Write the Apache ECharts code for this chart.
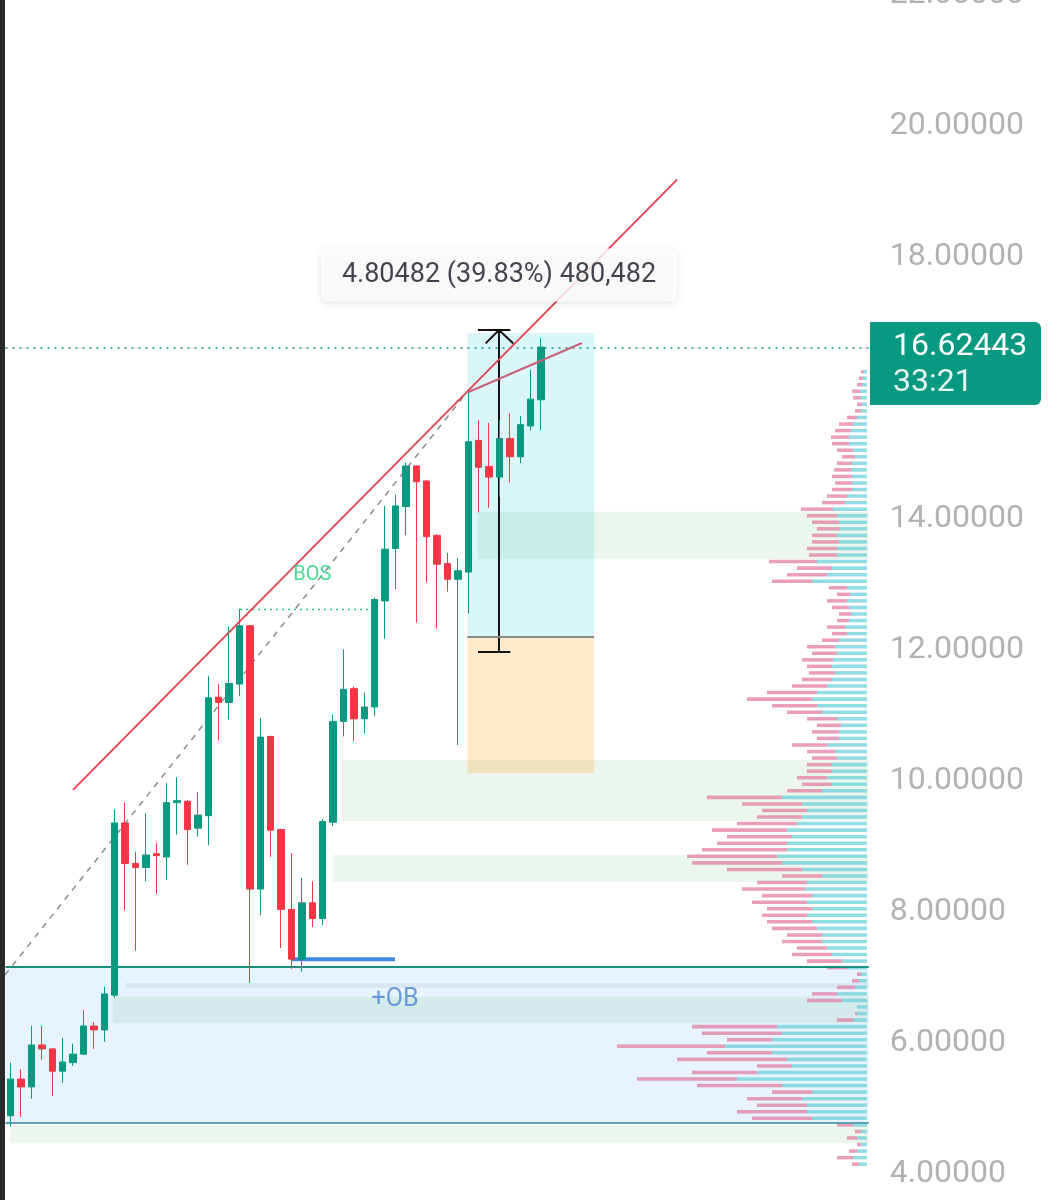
<!DOCTYPE html>
<html>
<head>
<meta charset="utf-8">
<script src="https://cdn.jsdelivr.net/npm/echarts@6/dist/echarts.min.js"></script>
<style>
  html, body { margin: 0; padding: 0; background: #fff; }
  #chart { width: 1055px; height: 1200px; }
</style>
</head>
<body>
<div id="chart"></div>
<script>
// candles (index = bar number)
const opens  = [4.89, 5.45, 5.33, 5.97, 5.91, 5.57, 5.70, 5.83, 6.26, 6.20, 6.73, 9.36, 8.74, 8.68, 8.89, 8.84, 9.67, 9.69, 9.28, 9.47, 11.28, 11.20, 11.48, 12.37, 8.35, 10.68, 9.26, 8.04, 7.28, 8.14, 7.90, 9.37, 10.91, 11.41, 10.95, 11.13, 12.75, 13.55, 14.19, 14.81, 14.58, 13.75, 13.32, 13.08, 13.19, 15.20, 14.80, 14.64, 15.23, 14.95, 15.42, 15.82];
const closes = [5.45, 5.33, 5.97, 5.91, 5.57, 5.71, 5.83, 6.26, 6.20, 6.75, 9.36, 8.74, 8.68, 8.87, 8.86, 9.67, 9.70, 9.26, 9.48, 11.27, 11.20, 11.49, 12.37, 8.35, 10.67, 9.25, 8.04, 7.28, 8.14, 7.90, 9.38, 10.91, 11.40, 10.95, 11.13, 12.77, 13.54, 14.20, 14.81, 14.57, 13.73, 13.31, 13.08, 13.21, 15.18, 14.79, 14.64, 15.23, 14.95, 15.44, 15.83, 16.62443];
const lows   = [4.73, 4.87, 5.15, 5.74, 5.19, 5.39, 5.65, 5.82, 5.91, 6.02, 6.69, 8.02, 7.41, 8.47, 8.28, 8.49, 9.18, 8.72, 9.15, 9.02, 10.62, 10.94, 11.30, 6.92, 7.95, 8.84, 7.45, 7.13, 7.09, 7.77, 7.80, 9.31, 10.68, 10.61, 10.73, 10.99, 12.17, 12.93, 13.75, 12.42, 13.03, 12.33, 12.89, 10.55, 12.56, 14.10, 14.17, 14.34, 14.56, 14.85, 15.35, 15.36];
const highs  = [5.70, 5.60, 6.26, 6.26, 5.92, 6.08, 5.99, 6.50, 6.32, 6.86, 9.57, 9.67, 8.92, 9.51, 9.05, 9.97, 10.06, 9.71, 9.83, 11.60, 11.48, 12.36, 12.63, 12.38, 10.96, 10.69, 9.27, 8.90, 8.52, 8.47, 9.42, 11.01, 12.01, 11.44, 11.35, 12.80, 14.20, 14.37, 14.86, 14.82, 14.60, 13.77, 13.48, 13.40, 15.94, 15.51, 15.47, 15.51, 15.61, 15.57, 16.28, 16.76];

const lastPrice = 16.62443;
const countdown = '33:21';
const measureText = '4.80482 (39.83%) 480,482';
const priceTicks = [4, 6, 8, 10, 12, 14, 16, 18, 20, 22];

// volume profile: bin centres (0.1 wide), total and buy volume per bin
const profilePrice = [4.15, 4.25, 4.35, 4.45, 4.55, 4.65, 4.75, 4.85, 4.95, 5.05, 5.15, 5.25, 5.35, 5.45, 5.55, 5.65, 5.75, 5.85, 5.95, 6.05, 6.15, 6.25, 6.35, 6.45, 6.55, 6.65, 6.75, 6.85, 6.95, 7.05, 7.15, 7.25, 7.35, 7.45, 7.55, 7.65, 7.75, 7.85, 7.95, 8.05, 8.15, 8.25, 8.35, 8.45, 8.55, 8.65, 8.75, 8.85, 8.95, 9.05, 9.15, 9.25, 9.35, 9.45, 9.55, 9.65, 9.75, 9.85, 9.95, 10.05, 10.15, 10.25, 10.35, 10.45, 10.55, 10.65, 10.75, 10.85, 10.95, 11.05, 11.15, 11.25, 11.35, 11.45, 11.55, 11.65, 11.75, 11.85, 11.95, 12.05, 12.15, 12.25, 12.35, 12.45, 12.55, 12.65, 12.75, 12.85, 12.95, 13.05, 13.15, 13.25, 13.35, 13.45, 13.55, 13.65, 13.75, 13.85, 13.95, 14.05, 14.15, 14.25, 14.35, 14.45, 14.55, 14.65, 14.75, 14.85, 14.95, 15.05, 15.15, 15.25, 15.35, 15.45, 15.55, 15.65, 15.75, 15.85, 15.95, 16.05, 16.15, 16.25];
const profileTotal = [15, 30, 18, 10, 20, 12, 30, 115, 130, 110, 120, 95, 170, 230, 175, 110, 190, 160, 250, 140, 165, 175, 30, 12, 10, 60, 55, 30, 15, 10, 40, 60, 75, 70, 85, 80, 95, 100, 105, 100, 115, 105, 125, 110, 85, 140, 175, 180, 165, 150, 140, 155, 130, 110, 105, 125, 160, 80, 65, 70, 60, 60, 55, 60, 75, 50, 55, 50, 60, 80, 95, 120, 100, 75, 65, 58, 60, 65, 55, 60, 45, 35, 40, 30, 28, 35, 40, 30, 38, 95, 80, 70, 98, 58, 60, 55, 55, 50, 55, 60, 66, 45, 40, 35, 32, 35, 33, 30, 25, 30, 35, 36, 32, 28, 20, 12, 10, 14, 15, 10, 8, 6];
const profileBuy   = [8, 14, 10, 6, 10, 6, 14, 55, 60, 60, 65, 55, 85, 130, 110, 75, 80, 95, 142, 95, 85, 90, 14, 10, 10, 25, 30, 12, 8, 6, 20, 25, 35, 40, 45, 45, 50, 55, 60, 55, 60, 55, 62, 60, 45, 65, 85, 90, 80, 80, 75, 80, 70, 65, 60, 65, 85, 45, 35, 40, 35, 35, 30, 32, 40, 28, 28, 26, 30, 45, 50, 55, 50, 40, 35, 32, 35, 34, 30, 32, 28, 20, 22, 18, 16, 18, 20, 17, 20, 55, 40, 35, 50, 30, 30, 28, 30, 27, 28, 30, 34, 22, 20, 15, 15, 15, 16, 15, 12, 14, 18, 18, 16, 14, 10, 6, 5, 6, 7, 5, 4, 3];

const slots = Array.from({ length: 83 }, (_, i) => String(i));
const UP = '#089981';
const DOWN = '#f23645';
const FONT = 'Roboto, "Noto Sans", sans-serif';

const chart = echarts.init(document.getElementById('chart'), null, { renderer: 'canvas' });

const seg = (pts) => pts.map((p) => [p[0], p[1]]);

const option = {
  animation: false,
  backgroundColor: '#ffffff',
  grid: [
    { left: 5.5, right: 186.3, top: -136, bottom: -105, outerBoundsMode: 'none', containLabel: false },
    { left: 607, right: 188, top: -136, bottom: -105, outerBoundsMode: 'none', containLabel: false }
  ],
  xAxis: [
    { type: 'category', gridIndex: 0, data: slots, boundaryGap: true, show: false },
    { type: 'value', gridIndex: 0, min: -0.5, max: 82.5, show: false },
    { type: 'value', gridIndex: 1, min: 0, max: 260, inverse: true, show: false }
  ],
  yAxis: [
    {
      type: 'value',
      gridIndex: 0,
      position: 'right',
      min: 2,
      max: 24,
      interval: 2,
      axisLine: { show: false },
      axisTick: { show: false },
      splitLine: { show: false },
      axisLabel: {
        customValues: priceTicks,
        formatter: (v) => v.toFixed(5),
        color: '#b2b2b2',
        fontSize: 32,
        fontFamily: FONT,
        margin: 21
      }
    },
    { type: 'value', gridIndex: 1, min: 2, max: 24, show: false }
  ],
  series: [
    // zones
    {
      type: 'line',
      xAxisIndex: 1,
      yAxisIndex: 0,
      data: [],
      z: 1,
      markArea: {
        silent: true,
        data: [
          [{ coord: [-0.5, 7.16], itemStyle: { color: 'rgba(33,150,243,0.11)' } }, { coord: [82.5, 4.779] }],
          [{ coord: [11.0, 6.916], itemStyle: { color: 'rgba(120,144,156,0.12)' } }, { coord: [82.5, 6.84] }],
          [{ coord: [9.8, 6.707], itemStyle: { color: 'rgba(76,175,80,0.11)' } }, { coord: [82.5, 6.30] }],
          [{ coord: [-0.05, 4.748], itemStyle: { color: 'rgba(76,175,80,0.11)' } }, { coord: [82.5, 4.47] }],
          [{ coord: [44.9, 14.11], itemStyle: { color: 'rgba(76,175,80,0.11)' } }, { coord: [82.5, 13.385] }],
          [{ coord: [31.9, 10.32], itemStyle: { color: 'rgba(76,175,80,0.11)' } }, { coord: [82.5, 9.39] }],
          [{ coord: [31.0, 8.87], itemStyle: { color: 'rgba(76,175,80,0.11)' } }, { coord: [82.5, 8.46] }],
          [{ coord: [43.9, 16.84], itemStyle: { color: 'rgba(0,188,212,0.14)' } }, { coord: [56.1, 12.2] }],
          [{ coord: [43.9, 12.2], itemStyle: { color: 'rgba(255,152,0,0.2)' } }, { coord: [56.1, 10.12] }]
        ]
      }
    },
    // volume profile
    {
      type: 'custom',
      xAxisIndex: 2,
      yAxisIndex: 1,
      z: 2,
      silent: true,
      data: profilePrice.map((p, i) => [p, profileBuy[i], profileTotal[i]]),
      encode: { y: 0, x: [1, 2] },
      renderItem: (params, api) => {
        const p = api.value(0);
        const buy = api.value(1);
        const total = api.value(2);
        const h = 0.1 * 0.27;
        const a = api.coord([0, p + h]);
        const b = api.coord([buy, p - h]);
        const c = api.coord([total, p - h]);
        return {
          type: 'group',
          children: [
            { type: 'rect', shape: { x: c[0], y: a[1], width: b[0] - c[0], height: b[1] - a[1] }, style: { fill: 'rgba(226,120,160,0.72)' } },
            { type: 'rect', shape: { x: b[0], y: a[1], width: a[0] - b[0], height: b[1] - a[1] }, style: { fill: 'rgba(110,208,218,0.75)' } }
          ]
        };
      }
    },
    // OB edges, position separator and last price line
    {
      type: 'line',
      xAxisIndex: 1,
      yAxisIndex: 0,
      data: [],
      z: 3,
      markLine: {
        silent: true,
        symbol: 'none',
        label: { show: false },
        data: [
          { yAxis: 7.16, lineStyle: { color: '#1a8f80', width: 2, type: 'solid' } },
          { yAxis: 4.779, lineStyle: { color: '#5f9fb2', width: 2, type: 'solid' } },
          { yAxis: lastPrice, lineStyle: { color: UP, width: 1.5, type: [2, 5] } },
          [{ coord: [43.9, 12.2], lineStyle: { color: '#8a8a8a', width: 2, type: 'solid' } }, { coord: [56.1, 12.2] }]
        ]
      }
    },
    // grey dashed channel line
    {
      type: 'line', xAxisIndex: 1, yAxisIndex: 0, z: 3, symbol: 'none', silent: true,
      data: seg([[-0.55, 7.038], [43.5, 15.86]]),
      lineStyle: { color: '#8c8c8c', width: 1.5, type: [6, 6] }
    },
    // BOS dotted line
    {
      type: 'line', xAxisIndex: 1, yAxisIndex: 0, z: 3, symbol: 'none', silent: true,
      data: seg([[22.05, 12.62], [34.74, 12.62]]),
      lineStyle: { color: '#22c97a', width: 1.5, type: [2, 4] }
    },
    // blue OB marker
    {
      type: 'line', xAxisIndex: 1, yAxisIndex: 0, z: 3, symbol: 'none', silent: true,
      data: seg([[27.05, 7.28], [36.95, 7.28]]),
      lineStyle: { color: '#3f88e6', width: 4 }
    },
    // measure tool (under the candles)
    {
      type: 'line', xAxisIndex: 1, yAxisIndex: 0, z: 4, symbol: 'none', silent: true,
      data: seg([[46.95, 16.885], [46.95, 11.969]]),
      lineStyle: { color: '#111111', width: 2 }
    },
    {
      type: 'line', xAxisIndex: 1, yAxisIndex: 0, z: 4, symbol: 'none', silent: true,
      data: seg([[44.93, 16.885], [48.04, 16.885]]),
      lineStyle: { color: '#111111', width: 2 }
    },
    {
      type: 'line', xAxisIndex: 1, yAxisIndex: 0, z: 4, symbol: 'none', silent: true,
      data: seg([[44.93, 11.969], [48.04, 11.969]]),
      lineStyle: { color: '#111111', width: 2 }
    },
    {
      type: 'line', xAxisIndex: 1, yAxisIndex: 0, z: 4, symbol: 'none', silent: true,
      data: seg([[45.67, 16.681], [46.95, 16.885], [48.33, 16.681]]),
      lineStyle: { color: '#111111', width: 2 }
    },
    // candles
    {
      type: 'candlestick',
      xAxisIndex: 0,
      yAxisIndex: 0,
      z: 5,
      barWidth: 7,
      data: opens.map((o, i) => [o, closes[i], lows[i], highs[i]]),
      itemStyle: { color: UP, color0: DOWN, borderColor: UP, borderColor0: DOWN, borderWidth: 1 }
    },
    // trend lines
    {
      type: 'line', xAxisIndex: 1, yAxisIndex: 0, z: 6, symbol: 'none', silent: true,
      data: seg([[5.99, 9.863], [64.07, 19.18]]),
      lineStyle: { color: '#e5404e', width: 1.8 }
    },
    {
      type: 'line', xAxisIndex: 1, yAxisIndex: 0, z: 6, symbol: 'none', silent: true,
      data: seg([[43.97, 15.935], [54.93, 16.687]]),
      lineStyle: { color: '#c8617a', width: 2 }
    },
    // text labels
    {
      type: 'scatter', xAxisIndex: 1, yAxisIndex: 0, z: 7, symbolSize: 0, silent: true,
      data: [[29.0, 13.145]],
      label: { show: true, position: 'inside', formatter: 'BOS', color: '#1fcf7a', fontSize: 20, fontFamily: FONT }
    },
    {
      type: 'scatter', xAxisIndex: 1, yAxisIndex: 0, z: 7, symbolSize: 0, silent: true,
      data: [[36.95, 6.656]],
      label: { show: true, position: 'inside', formatter: '+OB', color: '#4a86d4', fontSize: 25, fontFamily: FONT }
    },
    {
      type: 'scatter', xAxisIndex: 1, yAxisIndex: 0, z: 10, symbolSize: 0, silent: true,
      data: [[46.95, 17.725]],
      label: {
        show: true,
        position: 'inside',
        formatter: measureText,
        color: '#131722',
        fontSize: 27,
        fontFamily: FONT,
        backgroundColor: '#ffffff',
        padding: [13, 21, 13, 21],
        borderRadius: 8,
        shadowBlur: 8,
        shadowOffsetY: 2,
        shadowColor: 'rgba(0,0,0,0.15)'
      }
    }
  ]
};

chart.setOption(option);

// last price tag on the price scale
const py = chart.convertToPixel({ yAxisIndex: 0 }, lastPrice);
chart.setOption({
  graphic: [
    { type: 'rect', z: 100, zlevel: 1, shape: { x: 0, y: 0, width: 5, height: 1200 }, style: { fill: '#2a2a2a' } },
    { type: 'rect', z: 100, zlevel: 1, shape: { x: 870, y: py - 25, width: 171, height: 83, r: [0, 6, 6, 0] }, style: { fill: UP } },
    { type: 'text', z: 101, zlevel: 1, x: 893, y: py, style: { text: lastPrice.toFixed(5), fill: '#ffffff', font: '32px ' + FONT, verticalAlign: 'middle' } },
    { type: 'text', z: 101, zlevel: 1, x: 893, y: py + 36, style: { text: countdown, fill: '#e6f4f1', font: '32px ' + FONT, verticalAlign: 'middle' } }
  ]
});
</script>
</body>
</html>
